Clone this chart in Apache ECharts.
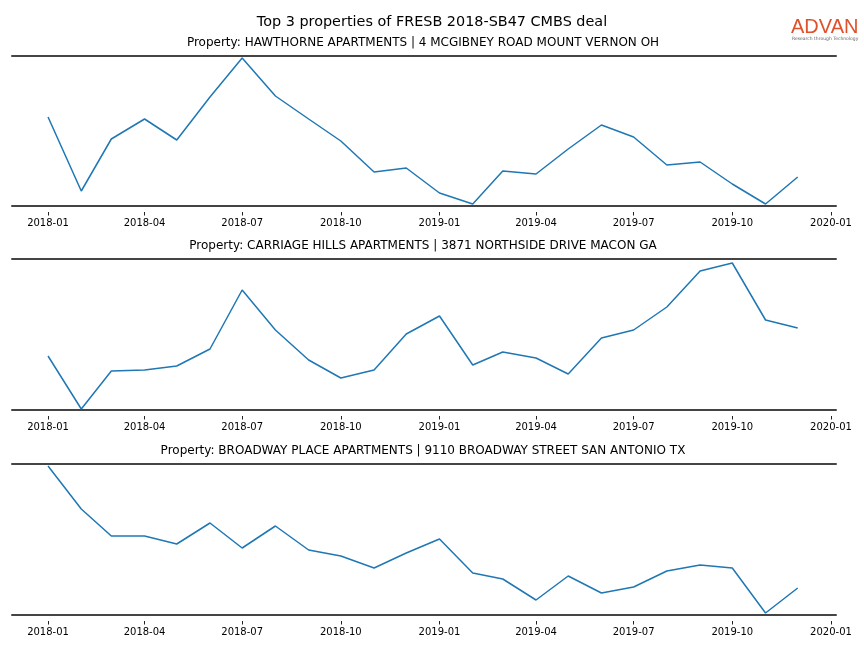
<!DOCTYPE html>
<html><head><meta charset="utf-8">
<script src="https://cdn.jsdelivr.net/npm/echarts@6/dist/echarts.min.js"></script>
<style>html,body{margin:0;padding:0;background:#fff}#c{width:864px;height:648px}</style>
</head><body><div id="c"></div>
<script>
const months = ['2018-01','2018-02','2018-03','2018-04','2018-05','2018-06','2018-07','2018-08','2018-09','2018-10','2018-11','2018-12',
                '2019-01','2019-02','2019-03','2019-04','2019-05','2019-06','2019-07','2019-08','2019-09','2019-10','2019-11','2019-12'];
const tickLabels = ['2018-01','2018-04','2018-07','2018-10','2019-01','2019-04','2019-07','2019-10','2020-01'];
const titles = [
  'Property: HAWTHORNE APARTMENTS | 4 MCGIBNEY ROAD MOUNT VERNON OH',
  'Property: CARRIAGE HILLS APARTMENTS | 3871 NORTHSIDE DRIVE MACON GA',
  'Property: BROADWAY PLACE APARTMENTS | 9110 BROADWAY STREET SAN ANTONIO TX'
];
// relative visit levels (no y scale shown)
const hawthorne = [89,15,67,87,66,109,148,110,87,65,34,38,13,2,35,32,57,81,69,41,44,22,2,29];
const carriage  = [54,1,39,40,44,61,120,80,50,32,40,76,94,45,58,52,36,72,80,103,139,147,90,82];
const broadway  = [149,106,79,79,71,92,67,89,65,59,47,62,76,42,36,15,39,22,28,44,50,47,2,27];
const series = [hawthorne, carriage, broadway];
const yMax = [150, 151, 151];

const ts = s => { const [y,m] = s.split('-').map(Number); return Date.UTC(y, m-1, 1); };
const DAY = 86400000;
const xMin = ts('2018-01') - 33.6*DAY;
const xMax = ts('2020-01') + 4.7*DAY;
const tickVals = tickLabels.map(ts);

const tops = [56, 259, 464];
const heights = [150, 151, 151];
const grids = [], xAxes = [], yAxes = [], ser = [], titleArr = [];
titleArr.push({text:'Top 3 properties of FRESB 2018-SB47 CMBS deal', left:'center', top:10,
  textStyle:{fontFamily:'DejaVu Sans', fontSize:14.4, fontWeight:'normal', color:'#000'}});
const lineOnly = (i, pos) => ({type:'value', gridIndex:i, min:0, max:1, position:pos,
    axisLine:{show:true, onZero:false, lineStyle:{color:'#444', width:2}},
    axisTick:{show:false}, axisLabel:{show:false}, splitLine:{show:false}});
for (let i=0;i<3;i++){
  grids.push({left:12, right:28, top:tops[i], height:heights[i], containLabel:false});
  titleArr.push({text:titles[i], left:418, textAlign:'center', top:tops[i]-24,
    textStyle:{fontFamily:'DejaVu Sans', fontSize:12, fontWeight:'normal', color:'#000'}});
  xAxes.push({type:'value', gridIndex:i, min:xMin, max:xMax, position:'bottom', offset:6,
    axisLine:{show:false, onZero:false},
    axisTick:{show:true, customValues:tickVals, length:3.5, lineStyle:{color:'#222', width:1}},
    axisLabel:{show:true, customValues:tickVals, fontFamily:'DejaVu Sans', fontSize:10, color:'#000', margin:6,
      showMinLabel:true, showMaxLabel:true,
      formatter:v=>tickLabels[tickVals.indexOf(v)] || ''},
    splitLine:{show:false}});
  xAxes.push(lineOnly(i, 'top'));
  xAxes.push(lineOnly(i, 'bottom'));
  yAxes.push({type:'value', gridIndex:i, min:0, max:yMax[i], show:false});
  ser.push({type:'line', xAxisIndex:3*i, yAxisIndex:i, showSymbol:false, symbol:'none',
    lineStyle:{color:'#1f77b4', width:1.5}, itemStyle:{color:'#1f77b4'},
    data: months.map((m,k)=>[ts(m), series[i][k]])});
}
const chart = echarts.init(document.getElementById('c'), null, {renderer:'canvas'});
chart.setOption({
  animation:false,
  title:titleArr,
  grid:grids, xAxis:xAxes, yAxis:yAxes, series:ser,
  graphic:[
    {type:'text', left:791, top:17, style:{text:'ADVAN', fontFamily:'Liberation Sans', fontSize:20, fontWeight:'normal', fill:'#e0502a'}},
    {type:'text', left:792, top:36, style:{text:'Research through Technology', fontFamily:'DejaVu Sans', fontSize:4.5, fill:'#666'}}
  ]
});
</script></body></html>
